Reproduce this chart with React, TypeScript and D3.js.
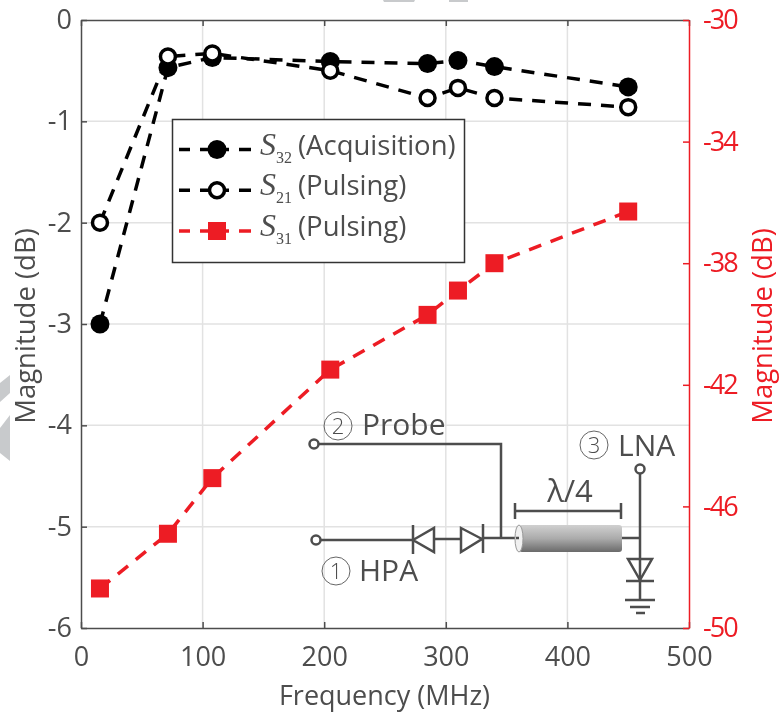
import React, { useRef, useEffect } from 'react';
import * as d3 from 'd3';

const frequencies = [15.6, 71.5, 108, 205, 285, 310, 340, 450];
const s32Values = [-3.0, -0.47, -0.37, -0.41, -0.43, -0.4, -0.46, -0.66];
const s21Values = [-2.0, -0.36, -0.33, -0.5, -0.77, -0.67, -0.77, -0.86];
const s31Values = [-48.7, -46.9, -45.07, -41.5, -39.7, -38.9, -38.0, -36.3];

const xTicks = [0, 100, 200, 300, 400, 500];
const leftTicks = [0, -1, -2, -3, -4, -5, -6];
const rightTicks = [-30, -34, -38, -42, -46, -50];

const legendRows = [
  { sub: '32', label: '(Acquisition)', color: '#000', marker: 'filled' },
  { sub: '21', label: '(Pulsing)', color: '#000', marker: 'open' },
  { sub: '31', label: '(Pulsing)', color: '#ed1c24', marker: 'square' },
];

const WIDTH = 782;
const HEIGHT = 713;
const INK = '#4d4d4d';
const RED = '#ed1c24';
const SANS = '"Open Sans", sans-serif';

export default function App() {
  const svgRef = useRef<SVGSVGElement>(null);

  useEffect(() => {
    const svg = d3.select(svgRef.current);
    svg.selectAll('*').remove();

    const left = 81, right = 689, top = 20, bottom = 628;
    const x = d3.scaleLinear().domain([0, 500]).range([left, right]);
    const yLeft = d3.scaleLinear().domain([-6, 0]).range([bottom, top]);
    const yRight = d3.scaleLinear().domain([-50, -30]).range([bottom, top]);

    // Gray scraps of the page behind the figure
    svg.append('g').attr('fill', '#c8cacc').selectAll('path')
      .data(['M383,0H415L414,2H384Z', 'M449,0H468V2H449Z', 'M10,375V393L0,402V383Z', 'M10,415V461L0,453V428Z'])
      .enter().append('path').attr('d', d => d);

    // Grid
    const grid = svg.append('g').attr('stroke', '#e2e2e2').attr('stroke-width', 1.5);
    grid.selectAll('.gx').data(xTicks.slice(1, -1)).enter().append('line')
      .attr('x1', d => x(d)).attr('x2', d => x(d)).attr('y1', top).attr('y2', bottom);
    grid.selectAll('.gy').data(leftTicks.slice(1, -1)).enter().append('line')
      .attr('y1', d => yLeft(d)).attr('y2', d => yLeft(d)).attr('x1', left).attr('x2', right);

    // Axes
    const styleAxis = (g: any, color: string, size: number) => {
      g.select('.domain').attr('stroke', color).attr('stroke-width', 1.5);
      g.selectAll('line').attr('stroke', color).attr('stroke-width', 1.5);
      g.selectAll('text').attr('fill', color).style('font-family', SANS).style('font-size', `${size}px`);
    };

    const bottomAxis = svg.append('g').attr('transform', `translate(0,${bottom})`)
      .call(d3.axisBottom(x).tickValues(xTicks).tickFormat(d3.format('d') as any).tickSizeInner(-6).tickSizeOuter(0).tickPadding(19));
    styleAxis(bottomAxis, INK, 27);

    const topAxis = svg.append('g').attr('transform', `translate(0,${top})`)
      .call(d3.axisTop(x).tickValues(xTicks).tickFormat(() => '').tickSizeInner(-6).tickSizeOuter(0));
    styleAxis(topAxis, INK, 27);

    const leftAxis = svg.append('g').attr('transform', `translate(${left},0)`)
      .call(d3.axisLeft(yLeft).tickValues(leftTicks).tickFormat(d3.format('d') as any).tickSizeInner(-6).tickSizeOuter(0).tickPadding(9));
    styleAxis(leftAxis, INK, 27);
    leftAxis.selectAll('text').text((d: any) => String(d));

    const rightAxis = svg.append('g').attr('transform', `translate(${right},0)`)
      .call(d3.axisRight(yRight).tickValues(rightTicks).tickFormat(d3.format('d') as any).tickSizeInner(-6).tickSizeOuter(0).tickPadding(14));
    styleAxis(rightAxis, RED, 27);
    rightAxis.selectAll('text').text((d: any) => String(d)).style('letter-spacing', '-2px');

    // Series
    const plot = (values: number[], yScale: any, color: string) => {
      const line = d3.line<number>().x((_, i) => x(frequencies[i])).y(d => yScale(d));
      svg.append('path').datum(values).attr('d', line).attr('fill', 'none')
        .attr('stroke', color).attr('stroke-width', 3.5).attr('stroke-dasharray', '13 10');
    };
    plot(s32Values, yLeft, '#000');
    plot(s21Values, yLeft, '#000');
    plot(s31Values, yRight, RED);

    svg.append('g').selectAll('circle').data(s32Values).enter().append('circle')
      .attr('cx', (_, i) => x(frequencies[i])).attr('cy', d => yLeft(d)).attr('r', 9.5).attr('fill', '#000');
    svg.append('g').selectAll('circle').data(s21Values).enter().append('circle')
      .attr('cx', (_, i) => x(frequencies[i])).attr('cy', d => yLeft(d)).attr('r', 7.5)
      .attr('fill', '#fff').attr('stroke', '#000').attr('stroke-width', 3.5);
    svg.append('g').selectAll('rect').data(s31Values).enter().append('rect')
      .attr('x', (_, i) => x(frequencies[i]) - 9).attr('y', d => yRight(d) - 9)
      .attr('width', 18).attr('height', 18).attr('fill', RED);

    // Axis titles
    const title = (txt: string, tx: number, ty: number, rot: number, color: string, size: number) => {
      svg.append('text').attr('transform', `translate(${tx},${ty}) rotate(${rot})`)
        .attr('text-anchor', 'middle').attr('fill', color)
        .style('font-family', SANS).style('font-size', `${size}px`).text(txt);
    };
    title('Frequency (MHz)', 384.5, 705, 0, INK, 27);
    title('Magnitude (dB)', 35, 326, -90, INK, 27.5);
    title('Magnitude (dB)', 772, 326, -90, RED, 27.5);

    // Legend
    const legend = svg.append('g');
    legend.append('rect').attr('x', 172.5).attr('y', 119.5).attr('width', 292).attr('height', 143)
      .attr('fill', '#fff').attr('stroke', '#333').attr('stroke-width', 1.5);
    const lineY = d3.scalePoint<string>().domain(legendRows.map(d => d.sub)).range([149.5, 231]);
    legendRows.forEach(row => {
      const y = lineY(row.sub) as number;
      legend.append('line').attr('x1', 179).attr('x2', 251).attr('y1', y).attr('y2', y)
        .attr('stroke', row.color).attr('stroke-width', 3.5).attr('stroke-dasharray', '11 10 29 10 12');
      if (row.marker === 'filled') {
        legend.append('circle').attr('cx', 217).attr('cy', y).attr('r', 9.5).attr('fill', '#000');
      } else if (row.marker === 'open') {
        legend.append('circle').attr('cx', 217).attr('cy', y).attr('r', 7.5)
          .attr('fill', '#fff').attr('stroke', '#000').attr('stroke-width', 3.5);
      } else {
        legend.append('rect').attr('x', 208).attr('y', y - 9).attr('width', 18).attr('height', 18).attr('fill', RED);
      }
      legend.append('text').attr('x', 260).attr('y', y + 5).attr('fill', INK)
        .style('font-family', '"Liberation Serif", serif').style('font-style', 'italic').style('font-size', '32px').text('S');
      legend.append('text').attr('x', 276).attr('y', y + 13).attr('fill', INK)
        .style('font-family', '"Liberation Serif", serif').style('font-size', '16px').text(row.sub);
      legend.append('text').attr('x', 298).attr('y', y + 5).attr('fill', INK)
        .style('font-family', SANS).style('font-size', '27.5px').text(row.label);
    });

    // Circuit inset
    const c = svg.append('g').attr('fill', 'none').attr('stroke', INK).attr('stroke-width', 2.5);
    const defs = svg.append('defs');
    const grad = defs.append('linearGradient').attr('id', 'coax').attr('x1', 0).attr('x2', 0).attr('y1', 0).attr('y2', 1);
    grad.append('stop').attr('offset', '0%').attr('stop-color', '#d0d0d0');
    grad.append('stop').attr('offset', '50%').attr('stop-color', '#ababab');
    grad.append('stop').attr('offset', '100%').attr('stop-color', '#6a6a6a');

    c.append('path').attr('d', 'M318,444H501V538M320,540H412M434,539H461M483,538H520M622,538H640M640,474V600');
    c.append('path').attr('d', 'M413,525V554M413,540L434,528V552ZM461,528L482,539L461,552ZM483,524V553');
    c.append('path').attr('d', 'M515,503V519M515,511H621M621,503V519');
    c.append('path').attr('d', 'M628,559H652L640,580ZM626,581H654M625,600H655M630,607H650M636,613H645');
    c.append('rect').attr('x', 519).attr('y', 525).attr('width', 103).attr('height', 27).attr('rx', 3)
      .attr('fill', 'url(#coax)').attr('stroke', 'none');
    c.append('ellipse').attr('cx', 519).attr('cy', 538.5).attr('rx', 4).attr('ry', 13.5)
      .attr('fill', '#f0f0f0').attr('stroke', '#999').attr('stroke-width', 1);
    c.append('path').attr('d', 'M516,538H519');
    [[314, 444], [316, 540], [640, 469]].forEach(([cx, cy]) => {
      c.append('circle').attr('cx', cx).attr('cy', cy).attr('r', 4.5).attr('fill', '#fff');
    });

    const inset = [
      { n: '2', cx: 338, cy: 426, label: 'Probe', tx: 362, ty: 435 },
      { n: '1', cx: 336, cy: 571, label: 'HPA', tx: 359, ty: 581 },
      { n: '3', cx: 594, cy: 445, label: 'LNA', tx: 618, ty: 456 },
    ];
    inset.forEach(d => {
      svg.append('circle').attr('cx', d.cx).attr('cy', d.cy).attr('r', 14)
        .attr('fill', 'none').attr('stroke', '#666').attr('stroke-width', 1);
      svg.append('text').attr('x', d.cx).attr('y', d.cy + 8).attr('text-anchor', 'middle').attr('fill', INK)
        .style('font-family', SANS).style('font-weight', 300).style('font-size', '22px').text(d.n);
      svg.append('text').attr('x', d.tx).attr('y', d.ty).attr('fill', INK)
        .style('font-family', SANS).style('font-size', '30px').text(d.label);
    });
    svg.append('text').attr('x', 570).attr('y', 502).attr('text-anchor', 'middle').attr('fill', INK)
      .style('font-family', SANS).style('font-size', '31px').text('λ/4');
  }, []);

  return (
    <svg ref={svgRef} width={WIDTH} height={HEIGHT}
      style={{ position: 'absolute', left: 0, top: 0, display: 'block', background: '#fff', filter: 'blur(0.4px)' }} />
  );
}
